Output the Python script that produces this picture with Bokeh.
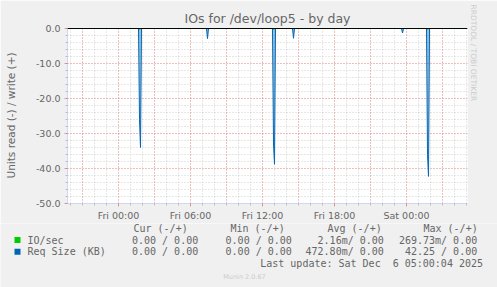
import pandas as pd
from bokeh.plotting import figure
from bokeh.layouts import column
from bokeh.models import (Range1d, SingleIntervalTicker, DatetimeTickFormatter,
                          NumeralTickFormatter, Label, Span, BoxAnnotation, Title,
                          ColumnDataSource)
from bokeh.embed import file_html
from bokeh.resources import INLINE

# ---------------- data ----------------
x_start = "2025-12-04 19:45"
x_end = "2025-12-06 05:05"

# Req Size (KB), read side (drawn negative)
req_time = ["2025-12-04 19:45",
            "2025-12-05 01:40", "2025-12-05 01:45", "2025-12-05 01:50", "2025-12-05 01:55",
            "2025-12-05 07:20", "2025-12-05 07:25", "2025-12-05 07:30",
            "2025-12-05 12:50", "2025-12-05 12:55", "2025-12-05 13:00", "2025-12-05 13:05",
            "2025-12-05 14:30", "2025-12-05 14:35", "2025-12-05 14:40",
            "2025-12-05 23:35", "2025-12-05 23:40", "2025-12-05 23:45",
            "2025-12-06 01:40", "2025-12-06 01:45", "2025-12-06 01:50", "2025-12-06 01:55",
            "2025-12-06 05:00"]
req_read = [0.0,
            0.0, 26.0, 34.0, 0.0,
            0.0, 2.9, 0.0,
            0.0, 33.0, 38.8, 0.0,
            0.0, 2.8, 0.0,
            0.0, 1.3, 0.0,
            0.0, 36.0, 42.25, 0.0,
            0.0]

# IO/sec, read side (drawn negative)
io_time = ["2025-12-04 19:45",
           "2025-12-05 01:40", "2025-12-05 01:45", "2025-12-05 01:50",
           "2025-12-05 12:50", "2025-12-05 12:55", "2025-12-05 13:00",
           "2025-12-06 01:40", "2025-12-06 01:45", "2025-12-06 01:50",
           "2025-12-06 05:00"]
io_read = [0.0,
           0.0, 0.27, 0.0,
           0.0, 0.27, 0.0,
           0.0, 0.27, 0.0,
           0.0]

title_text = "IOs for /dev/loop5 - by day"
y_label = "Units read (-) / write (+)"
legend_headers = ["Cur (-/+)", "Min (-/+)", "Avg (-/+)", "Max (-/+)"]
series_names = ["IO/sec", "Req Size (KB)"]
series_colors = ["#00CC00", "#0066B3"]
io_stats = ["0.00 / 0.00", "0.00 / 0.00", "2.16m/ 0.00", "269.73m/ 0.00"]
req_stats = ["0.00 / 0.00", "0.00 / 0.00", "472.80m/ 0.00", "42.25 / 0.00"]
last_update = "Last update: Sat Dec \u00a06 05:00:04 2025"
footer = "Munin 2.0.67"
side_text = "RRDTOOL / TOBI OETIKER"

# ---------------- main figure ----------------
HOUR = 3600 * 1000
FONT = "#666666"
BG = "#F0F0F0"
TOP_H = 223

p = figure(width=497, height=TOP_H, x_axis_type="datetime",
           x_range=Range1d(pd.Timestamp(x_start), pd.Timestamp(x_end)),
           y_range=Range1d(-50, 0.28),
           output_backend="svg", toolbar_location=None,
           min_border_left=67, min_border_right=30,
           min_border_top=27, min_border_bottom=TOP_H - 203)
p.frame_align = False
p.background_fill_color = "#FFFFFF"
p.border_fill_color = BG
p.outline_line_color = None

p.title.text = title_text
p.title.align = "center"
p.title.text_font = "DejaVu Sans"
p.title.text_font_size = "12.5px"
p.title.text_font_style = "normal"
p.title.text_color = FONT
p.title.standoff = 3

side = Title(text=side_text, align="left", text_font="DejaVu Sans", text_font_size="7.5px",
             text_font_style="normal", text_color="#CCCCCC", standoff=2, offset=-23)
p.add_layout(side, "right")

xa = p.xaxis[0]
xa.ticker = SingleIntervalTicker(interval=6 * HOUR, num_minor_ticks=6)
xa.formatter = DatetimeTickFormatter(hours="%a %H:%M", hourmin="%a %H:%M",
                                     days="%a %H:%M", minutes="%a %H:%M")
ya = p.yaxis[0]
ya.ticker = SingleIntervalTicker(interval=10, num_minor_ticks=5)
ya.formatter = NumeralTickFormatter(format="0.0")
ya.axis_label = y_label

for ax in (xa, ya):
    ax.axis_line_color = "#CFD6F8"
    ax.major_tick_line_color = "#FF5F5F"
    ax.major_tick_line_alpha = 0.6
    ax.minor_tick_line_color = "#8C8C8C"
    ax.minor_tick_line_alpha = 0.5
    ax.major_tick_in = 0
    ax.minor_tick_in = 0
    ax.major_tick_out = 3
    ax.minor_tick_out = 2
    ax.major_label_text_font = "DejaVu Sans"
    ax.major_label_text_font_size = "9.5px"
    ax.major_label_text_color = FONT
    ax.axis_label_text_font = "DejaVu Sans"
    ax.axis_label_text_font_style = "normal"
    ax.axis_label_text_font_size = "10.5px"
    ax.axis_label_text_color = FONT
xa.major_label_standoff = 3
ya.major_label_standoff = 4
ya.axis_label_standoff = 16

p.xgrid.ticker = SingleIntervalTicker(interval=3 * HOUR, num_minor_ticks=3)
p.ygrid.ticker = SingleIntervalTicker(interval=10, num_minor_ticks=5)
for g in (p.xgrid[0], p.ygrid[0]):
    g.grid_line_color = "#FF5F5F"
    g.grid_line_alpha = 0.6
    g.grid_line_dash = "1 2"
    g.minor_grid_line_color = "#8C8C8C"
    g.minor_grid_line_alpha = 0.4
    g.minor_grid_line_dash = "1 2"

req_src = ColumnDataSource(dict(t=pd.to_datetime(req_time), y=[-v for v in req_read]))
io_src = ColumnDataSource(dict(t=pd.to_datetime(io_time), y=[-v for v in io_read]))
p.varea(x="t", y1=0, y2="y", source=req_src, fill_color=series_colors[1], fill_alpha=0.4)
p.line(x="t", y="y", source=req_src, line_color=series_colors[1], line_width=1)
p.line(x="t", y="y", source=io_src, line_color=series_colors[0], line_width=1)
p.add_layout(Span(location=0, dimension="width", line_color="#000000", line_width=1))

# ---------------- legend area (coordinates = page pixels) ----------------
leg = figure(width=497, height=287 - TOP_H, x_range=Range1d(0, 497), y_range=Range1d(287, TOP_H),
             output_backend="svg", toolbar_location=None,
             x_axis_location=None, y_axis_location=None,
             min_border=0, min_border_left=0, min_border_right=0,
             min_border_top=0, min_border_bottom=0)
leg.frame_align = False
leg.grid.visible = False
leg.background_fill_color = BG
leg.border_fill_color = BG
leg.outline_line_color = None


def lab(text, X, Y, align="left", font="DejaVu Sans Mono", size="10px", color=FONT):
    leg.add_layout(Label(x=X, y=Y, text=text, text_align=align, text_baseline="middle",
                         text_font=font, text_font_size=size, text_color=color))


header_x = [133, 230, 327, 423]
for h, X in zip(legend_headers, header_x):
    lab(h, X, 228)

value_right = [197.7, 291.3, 383.3, 476.7]
row_y = [239.5, 251.2]
for name, color, stats, Y in zip(series_names, series_colors, [io_stats, req_stats], row_y):
    leg.add_layout(BoxAnnotation(left=14, right=20, top=Y - 3, bottom=Y + 3,
                                 fill_color=color, fill_alpha=1.0, line_color=None))
    lab(name, 27, Y)
    for s, R in zip(stats, value_right):
        lab(s, R, Y, align="right")

lab(last_update, 482.5, 263.3, align="right")
lab(footer, 244, 276, align="center", font="DejaVu Sans", size="6.5px", color="#CCCCCC")

layout = column(p, leg, spacing=0)
open("out.html", "w").write(file_html(layout, INLINE))
